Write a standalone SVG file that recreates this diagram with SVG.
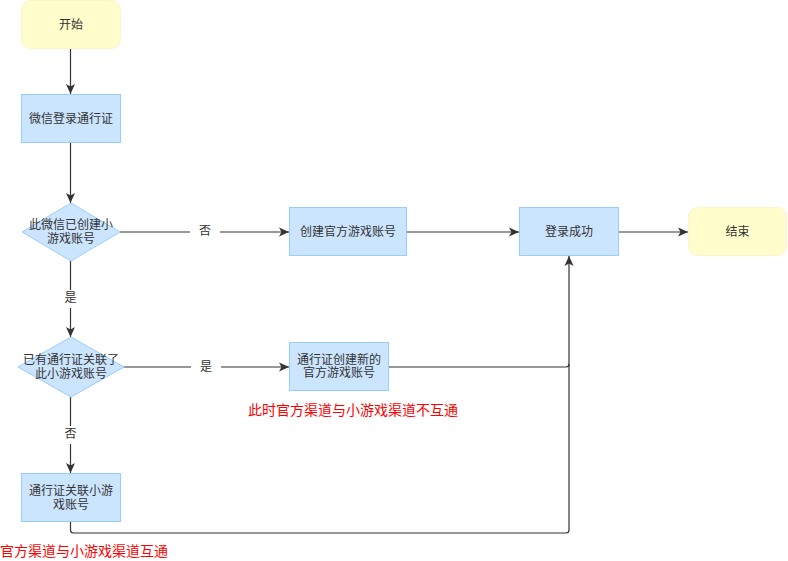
<svg xmlns="http://www.w3.org/2000/svg" width="788" height="561" viewBox="0 0 788 561">
<defs>
<marker id="arr" viewBox="0 0 10 10" refX="10" refY="5" markerWidth="10" markerHeight="10" markerUnits="userSpaceOnUse" orient="auto">
<path d="M0 0.5 L10 5 L0 9.5 L2.5 5 Z" fill="#333"/>
</marker>
<style>
.term{fill:#fffdcc;stroke:#fff2cc;stroke-width:1}
.proc{fill:#cce5ff;stroke:#99ccff;stroke-width:1}
.dec{fill:#cce5ff;stroke:#99ccff;stroke-width:1}
.t{font-family:"Liberation Sans","Noto Sans CJK SC",sans-serif;font-size:12px;fill:#333;text-anchor:middle;dominant-baseline:central}
.red{font-family:"Liberation Sans","Noto Sans CJK SC",sans-serif;font-size:14px;fill:#ff0000;dominant-baseline:central}
.ln{fill:none;stroke:#333;stroke-width:1.2}
.lbg{fill:#fff}
</style>
</defs>
<rect width="788" height="561" fill="#fff"/>
<g id="connectors">
<path class="ln" d="M70.5 49 V94" marker-end="url(#arr)"/>
<path class="ln" d="M70.5 143 V203" marker-end="url(#arr)"/>
<path class="ln" d="M120 232 H289" marker-end="url(#arr)"/>
<path class="ln" d="M407 232 H519" marker-end="url(#arr)"/>
<path class="ln" d="M619 232 H688" marker-end="url(#arr)"/>
<path class="ln" d="M70.5 261 V337" marker-end="url(#arr)"/>
<path class="ln" d="M124 367 H289" marker-end="url(#arr)"/>
<path class="ln" d="M70.5 397 V473" marker-end="url(#arr)"/>
<path class="ln" d="M389 367 H566 Q569 367 569 364 V256" marker-end="url(#arr)"/>
<path class="ln" d="M70.5 522 V530 Q70.5 533 73.5 533 H566 Q569 533 569 530 V364"/>
<rect class="lbg" x="190" y="223" width="30" height="18"/>
<text class="t" x="205" y="231">否</text>
<rect class="lbg" x="58" y="290" width="25" height="18"/>
<text class="t" x="70.5" y="298">是</text>
<rect class="lbg" x="191" y="358" width="30" height="18"/>
<text class="t" x="206" y="367">是</text>
<rect class="lbg" x="58" y="426" width="25" height="18"/>
<text class="t" x="70.5" y="434">否</text>
</g>
<g id="start">
<rect class="term" x="21.5" y="0.5" width="99" height="48" rx="9"/>
<text class="t" x="71" y="24.5">开始</text>
</g>
<g id="wxlogin">
<rect class="proc" x="21.5" y="94.5" width="99" height="48"/>
<text class="t" x="71" y="118.5">微信登录通行证</text>
</g>
<g id="dec1">
<path class="dec" d="M71 203 L120 232 L71 261 L22 232 Z"/>
<text class="t" x="71" y="225">此微信已创建小</text>
<text class="t" x="71" y="239">游戏账号</text>
</g>
<g id="create">
<rect class="proc" x="289.5" y="207.5" width="117" height="48"/>
<text class="t" x="348" y="231.5">创建官方游戏账号</text>
</g>
<g id="success">
<rect class="proc" x="519.5" y="207.5" width="99" height="48"/>
<text class="t" x="569" y="231.5">登录成功</text>
</g>
<g id="end">
<rect class="term" x="688.5" y="207.5" width="98" height="48" rx="9"/>
<text class="t" x="737.5" y="231.5">结束</text>
</g>
<g id="dec2">
<path class="dec" d="M71 337 L124 367 L71 397 L18 367 Z"/>
<text class="t" x="71" y="360">已有通行证关联了</text>
<text class="t" x="71" y="374">此小游戏账号</text>
</g>
<g id="newacct">
<rect class="proc" x="289.5" y="342.5" width="99" height="48"/>
<text class="t" x="339" y="360">通行证创建新的</text>
<text class="t" x="339" y="373">官方游戏账号</text>
</g>
<g id="link">
<rect class="proc" x="21.5" y="473.5" width="99" height="48"/>
<text class="t" x="71" y="491">通行证关联小游</text>
<text class="t" x="71" y="505">戏账号</text>
</g>
<text class="red" x="248" y="410">此时官方渠道与小游戏渠道不互通</text>
<text class="red" x="0" y="551">官方渠道与小游戏渠道互通</text>
</svg>
